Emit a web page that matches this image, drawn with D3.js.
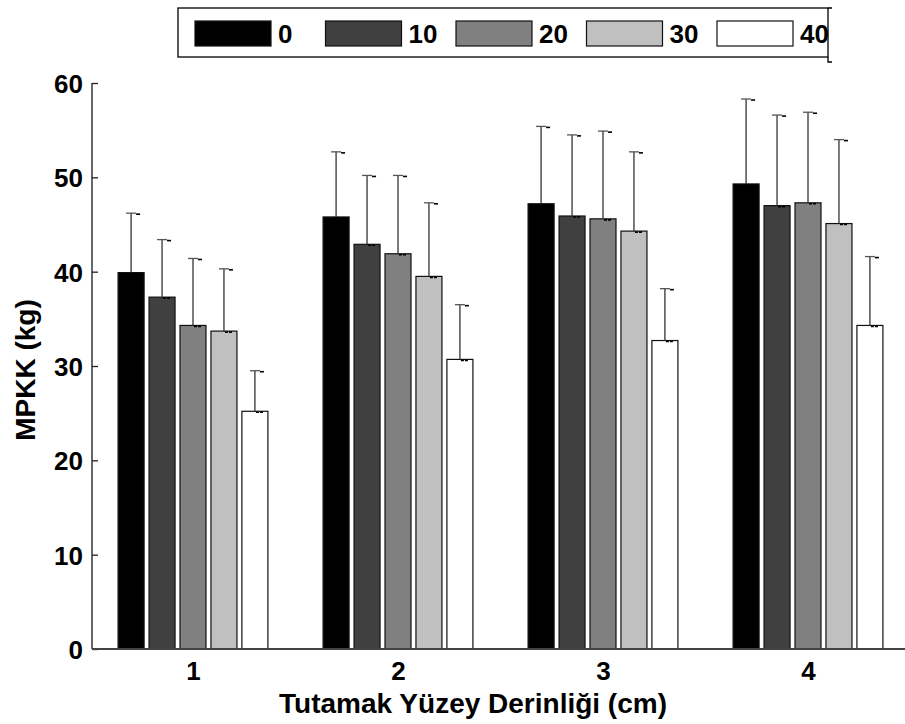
<!DOCTYPE html>
<html>
<head>
<meta charset="utf-8">
<script src="https://cdn.jsdelivr.net/npm/d3@7"></script>
<style>
  html, body { margin: 0; padding: 0; background: #fff; }
  svg { display: block; }
  text { font-family: "Liberation Sans", Arial, sans-serif; font-weight: bold; fill: #000; }
</style>
</head>
<body>
<svg id="chart" width="905" height="724"></svg>
<script>
const categories = [1, 2, 3, 4];
const series = ["0", "10", "20", "30", "40"];
const means = {
  "0":  [39.9, 45.8, 47.2, 49.3],
  "10": [37.3, 42.9, 45.9, 47.0],
  "20": [34.3, 41.9, 45.6, 47.3],
  "30": [33.7, 39.5, 44.3, 45.1],
  "40": [25.2, 30.7, 32.7, 34.3]
};
const sds = {
  "0":  [6.3, 6.9, 8.2, 9.0],
  "10": [6.1, 7.3, 8.6, 9.6],
  "20": [7.1, 8.3, 9.3, 9.6],
  "30": [6.6, 7.8, 8.4, 8.9],
  "40": [4.3, 5.8, 5.5, 7.3]
};
const yTicks = [0, 10, 20, 30, 40, 50, 60];
const colors = ["#000000", "#404040", "#808080", "#c0c0c0", "#ffffff"];
const xTitle = "Tutamak Yüzey Derinliği (cm)";
const yTitle = "MPKK (kg)";

const svg = d3.select("#chart");
const x = d3.scaleLinear().domain([0.5, 4.5]).range([90.5, 910.5]);
const y = d3.scaleLinear().domain([0, 60]).range([649, 83]);
const color = d3.scaleOrdinal().domain(series).range(colors);
const groupW = (x(2) - x(1)) * 0.755;
const inner = d3.scaleBand().domain(series).range([-groupW / 2, groupW / 2]).paddingInner(0.16).paddingOuter(0.08);

const data = [];
categories.forEach((c, i) => series.forEach(s => data.push({c, s, m: means[s][i], sd: sds[s][i]})));

// bars
svg.append("g").selectAll("rect").data(data).join("rect")
  .attr("x", d => x(d.c) + inner(d.s))
  .attr("y", d => y(d.m))
  .attr("width", inner.bandwidth())
  .attr("height", d => y(0) - y(d.m))
  .attr("fill", d => color(d.s))
  .attr("stroke", "#111")
  .attr("stroke-width", 1.2);

// error bars
const eg = svg.append("g");
data.forEach(d => {
  const cx = x(d.c) + inner(d.s) + inner.bandwidth() / 2;
  const yt = y(d.m + d.sd);
  eg.append("line").attr("x1", cx).attr("x2", cx).attr("y1", y(d.m)).attr("y2", yt)
    .attr("stroke", "#333").attr("stroke-width", 1.3);
  eg.append("line").attr("x1", cx - 5).attr("x2", cx + 5).attr("y1", yt).attr("y2", yt)
    .attr("stroke", "#555").attr("stroke-width", 1.3);
  eg.append("line").attr("x1", cx + 5).attr("x2", cx + 9).attr("y1", yt + 1).attr("y2", yt + 1)
    .attr("stroke", "#000").attr("stroke-width", 1.6);
  eg.append("line").attr("x1", cx + 1).attr("x2", cx + 9).attr("y1", y(d.m) + 1).attr("y2", y(d.m) + 1)
    .attr("stroke", "#000").attr("stroke-width", 1.6).attr("stroke-dasharray", "3,1");
});

// y axis
const yAxis = d3.axisLeft(y).tickValues(yTicks).tickSize(-6).tickPadding(9).tickFormat(d3.format("d"));
const ya = svg.append("g").attr("transform", "translate(92,0)").call(yAxis);
ya.select(".domain").attr("stroke", "#000").attr("stroke-width", 1.2).attr("d", `M0,${y(60)}V${y(0)}`);
ya.selectAll(".tick line").attr("stroke", "#222").attr("stroke-width", 1.3);
ya.selectAll(".tick text").style("font-size", "26px").attr("font-family", null).attr("dy", "0.36em");

// x axis
const xAxis = d3.axisBottom(x).tickValues(categories).tickSize(0).tickPadding(13).tickFormat(d3.format("d"));
const xa = svg.append("g").attr("transform", `translate(0,${y(0)})`).call(xAxis);
xa.select(".domain").attr("stroke", "#444").attr("stroke-width", 2).attr("d", `M92,0H905`);
xa.selectAll(".tick text").style("font-size", "26px").attr("font-family", null).attr("dy", "0.71em");

// titles
svg.append("text").attr("x", 473).attr("y", 713).attr("text-anchor", "middle")
  .style("font-size", "28px").text(xTitle);
svg.append("text").attr("transform", "translate(35,370) rotate(-90)").attr("text-anchor", "middle")
  .style("font-size", "28px").text(yTitle);

// legend
const lg = svg.append("g");
lg.append("rect").attr("x", 178).attr("y", 8).attr("width", 650).attr("height", 49)
  .attr("fill", "#fff").attr("stroke", "#000").attr("stroke-width", 1.3);
lg.append("path").attr("d", "M828,8h4M828,57v5h4").attr("stroke", "#000").attr("stroke-width", 1.3).attr("fill", "none");
series.forEach((s, i) => {
  const lx = 195 + i * 130.5;
  lg.append("rect").attr("x", lx).attr("y", 21).attr("width", 76).attr("height", 25)
    .attr("fill", color(s)).attr("stroke", "#111").attr("stroke-width", 1.2);
  lg.append("text").attr("x", lx + 83).attr("y", 43).style("font-size", "26px").text(s);
});
</script>
</body>
</html>
